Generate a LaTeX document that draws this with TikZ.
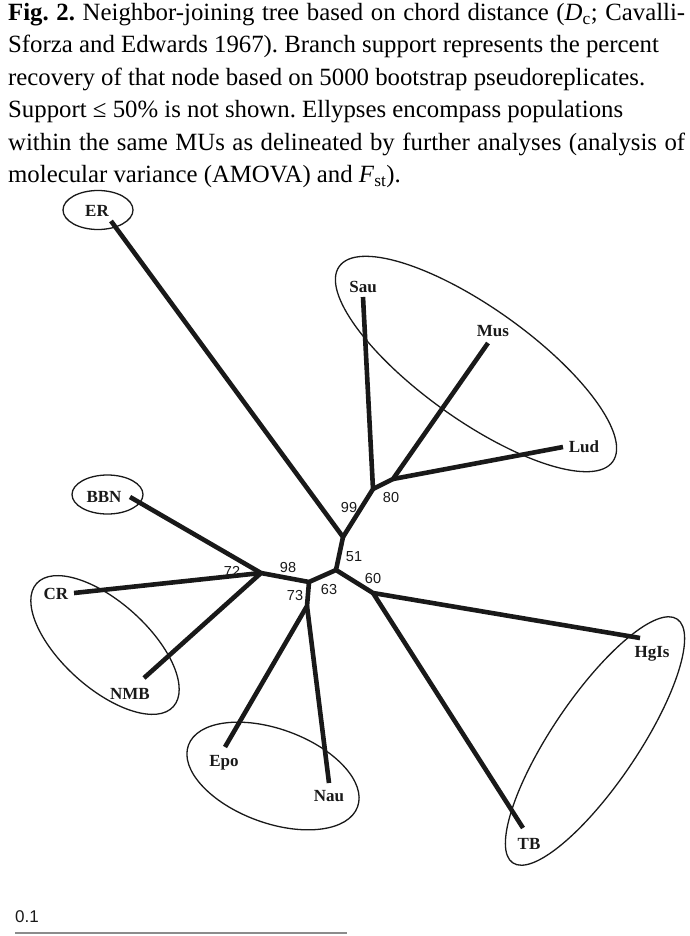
\documentclass[tikz,border=0pt]{standalone}
\usepackage{fontspec}
\setmainfont{Liberation Serif}
\newfontfamily\arialfont{Liberation Sans}
\usetikzlibrary{positioning}
\tikzstyle{branch}=[line width=4.6pt, draw=black!90, line join=round]
\tikzstyle{mu}=[line width=1.3pt, draw=black!90]
\tikzstyle{taxon}=[font=\fontsize{17}{18}\selectfont\bfseries, inner sep=0pt, anchor=base, text=black!90]
\tikzstyle{boot}=[font=\arialfont\fontsize{14.5}{16}\selectfont, inner sep=0pt, anchor=base, text=black!90]

\begin{document}
\begin{tikzpicture}[x=1pt,y=-1pt]
\useasboundingbox (0,0) rectangle (689,936);
\node[anchor=north west, inner sep=0pt, text width=677pt, align=justify, font=\fontsize{24.8}{32.4}\selectfont\frenchspacing] (caption) at (8,3)
{\textbf{Fig. 2.} Neighbor-joining tree based on chord distance (\textit{D}\textsubscript{c}; Cavalli-\linebreak
Sforza and Edwards 1967). Branch support represents the percent\\
recovery of that node based on 5000 bootstrap pseudoreplicates.\\
Support ≤ 50\% is not shown. Ellypses encompass populations\\
within the same MUs as delineated by further analyses (analysis of\linebreak
molecular variance (AMOVA) and \textit{F}\textsubscript{st}).};
\coordinate (nA) at (343,537);
\coordinate (nB) at (373,489);
\coordinate (nC) at (393,479);
\coordinate (nD) at (336,570);
\coordinate (nE) at (309,582);
\coordinate (nF) at (261,573);
\coordinate (nG) at (373,593);
\coordinate (nH) at (307,606);
\coordinate (tER) at (111,221);
\coordinate (tSau) at (363,297);
\coordinate (tMus) at (488,343);
\coordinate (tLud) at (563,447);
\coordinate (tBBN) at (130,497);
\coordinate (tCR) at (74,593);
\coordinate (tNMB) at (144,678);
\coordinate (tEpo) at (225,747);
\coordinate (tNau) at (329,783);
\coordinate (tHgIs) at (640,638);
\coordinate (tTB) at (523,828);
\draw[branch] (tER) -- (nA) -- (nD) -- (nG) -- (tHgIs);
\draw[branch] (nA) -- (nB) -- (tSau);
\draw[branch] (nB) -- (nC) -- (tMus);
\draw[branch] (nC) -- (tLud);
\draw[branch] (nD) -- (nE) -- (nF) -- (tBBN);
\draw[branch] (nF) -- (tCR);
\draw[branch] (nF) -- (tNMB);
\draw[branch] (nE) -- (nH) -- (tEpo);
\draw[branch] (nH) -- (tNau);
\draw[branch] (nG) -- (tTB);
\node[taxon] (ER) at (97,216) {ER};
\node[taxon] (Sau) at (363,292) {Sau};
\node[taxon] (Mus) at (493,336) {Mus};
\node[taxon] (Lud) at (584,452) {Lud};
\node[taxon] (BBN) at (104,502) {BBN};
\node[taxon] (CR) at (56,599) {CR};
\node[taxon] (NMB) at (130,699) {NMB};
\node[taxon] (Epo) at (224,766) {Epo};
\node[taxon] (Nau) at (329,801) {Nau};
\node[taxon] (HgIs) at (652,657) {HgIs};
\node[taxon] (TB) at (529,849) {TB};
\node[boot] (b99) at (349,512) {99};
\node[boot] (b80) at (391,502) {80};
\node[boot] (b51) at (354,561) {51};
\node[boot] (b98) at (288,572) {98};
\node[boot] (b72) at (232,576) {72};
\node[boot] (b63) at (329,594) {63};
\node[boot] (b73) at (295,600) {73};
\node[boot] (b60) at (373,583) {60};
\draw[mu] (98,210) ellipse [x radius=35, y radius=19.5];
\draw[mu] (107.5,494.5) ellipse [x radius=35.5, y radius=19.5];
\draw[mu, shift={(476,364)}, rotate=-35.5] (0,0) ellipse [x radius=168, y radius=56];
\draw[mu, shift={(105,645)}, rotate=-42] (0,0) ellipse [x radius=92, y radius=43];
\draw[mu, shift={(273,776)}, rotate=-20] (0,0) ellipse [x radius=90, y radius=47];
\draw[mu, shift={(595,741)}, rotate=56] (0,0) ellipse [x radius=147, y radius=43];
\node[boot, anchor=base west, font=\arialfont\fontsize{17}{18}\selectfont] (scale) at (15,922) {0.1};
\coordinate (sbL) at (15,933);
\coordinate (sbR) at (347,933);
\draw[line width=2pt, draw=black!45] (sbL) -- (sbR);
\end{tikzpicture}
\end{document}
